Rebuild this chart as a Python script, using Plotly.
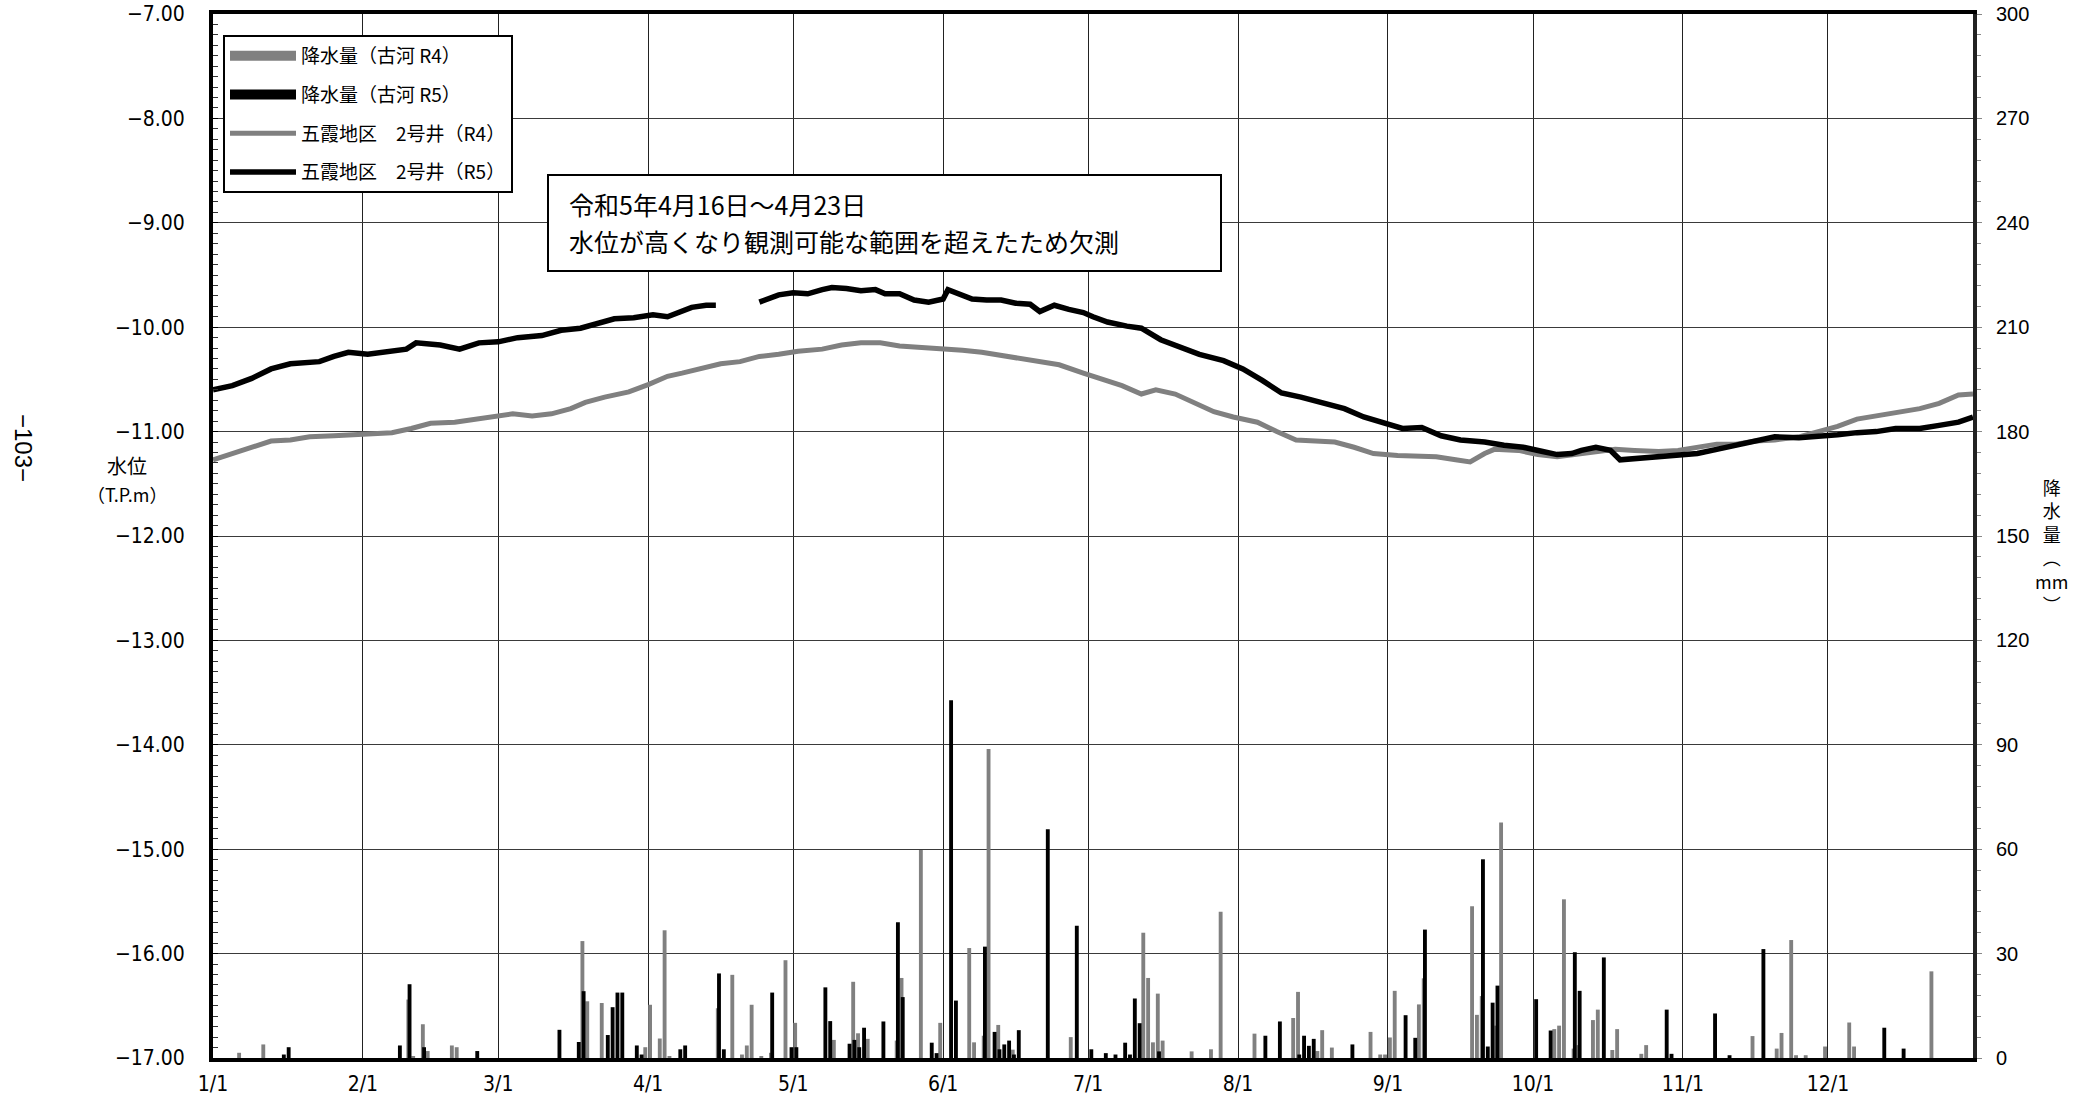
import pandas as pd
import plotly.graph_objects as go

# ---------------- data ----------------
month_ticks = ["1/1", "2/1", "3/1", "4/1", "5/1", "6/1", "7/1", "8/1", "9/1", "10/1", "11/1", "12/1"]

# groundwater level, Goka district well No.2, R5 (day-of-year, T.P.m); None = missing 4/16-4/23
r5_days = [0, 4, 8, 12, 16, 22, 25, 28, 32, 36, 40, 42, 47, 51, 55, 59, 63, 68, 72, 76, 80, 83, 87, 91, 94,
           97, 99, 102, 104, 108, 113, 115, 117, 120, 123, 126, 128, 131, 134, 137, 139, 142, 145, 148, 151,
           152, 155, 157, 160, 163, 166, 169, 171, 174, 177, 180, 182, 185, 189, 192, 196, 200, 204, 209,
           213, 217, 221, 225, 229, 234, 238, 242, 246, 250, 254, 258, 263, 267, 271, 275, 278, 281, 283,
           286, 289, 291, 294, 299, 303, 307, 311, 315, 319, 323, 328, 332, 336, 340, 344, 348, 353, 357,
           361, 364]
r5_level = [-10.60, -10.56, -10.49, -10.40, -10.35, -10.33, -10.28, -10.24, -10.26, -10.23, -10.21, -10.15,
            -10.17, -10.21, -10.15, -10.14, -10.10, -10.08, -10.03, -10.01, -9.96, -9.92, -9.91, -9.88,
            -9.90, -9.85, -9.81, -9.79, -9.79, None, -9.76, -9.73, -9.69, -9.67, -9.68, -9.64, -9.62,
            -9.63, -9.65, -9.64, -9.68, -9.68, -9.74, -9.76, -9.73, -9.64, -9.69, -9.73, -9.74, -9.74,
            -9.77, -9.78, -9.85, -9.79, -9.83, -9.86, -9.90, -9.95, -9.99, -10.01, -10.12, -10.19,
            -10.26, -10.32, -10.40, -10.51, -10.63, -10.67, -10.72, -10.78, -10.86, -10.92, -10.97,
            -10.96, -11.04, -11.08, -11.10, -11.13, -11.15, -11.19, -11.22, -11.21, -11.18, -11.15,
            -11.18, -11.27, -11.26, -11.24, -11.23, -11.21, -11.17, -11.13, -11.09, -11.05, -11.06,
            -11.05, -11.03, -11.01, -11.00, -10.97, -10.97, -10.94, -10.91, -10.86]

# groundwater level, R4
r4_days = [0, 4, 8, 12, 16, 20, 25, 29, 33, 37, 41, 45, 50, 54, 58, 62, 66, 70, 74, 77, 81, 86, 90, 94, 97,
           101, 105, 109, 113, 117, 121, 126, 130, 134, 138, 142, 146, 151, 155, 159, 163, 167, 171, 175,
           180, 184, 188, 192, 195, 199, 203, 207, 211, 216, 220, 224, 228, 232, 236, 240, 245, 249, 253,
           257, 260, 263, 265, 270, 274, 278, 282, 286, 290, 294, 299, 303, 307, 311, 315, 319, 323, 328,
           332, 336, 340, 344, 348, 353, 357, 361, 364]
r4_level = [-11.27, -11.21, -11.15, -11.09, -11.08, -11.05, -11.04, -11.03, -11.01, -11.01, -10.97, -10.92,
            -10.91, -10.88, -10.86, -10.83, -10.85, -10.83, -10.78, -10.72, -10.67, -10.62, -10.55,
            -10.47, -10.44, -10.40, -10.35, -10.33, -10.28, -10.26, -10.23, -10.21, -10.17, -10.15,
            -10.15, -10.18, -10.19, -10.21, -10.22, -10.24, -10.27, -10.29, -10.32, -10.36, -10.44,
            -10.50, -10.56, -10.64, -10.60, -10.64, -10.72, -10.81, -10.86, -10.91, -11.00, -11.08,
            -11.09, -11.10, -11.15, -11.21, -11.23, -11.23, -11.24, -11.27, -11.29, -11.21, -11.17,
            -11.18, -11.22, -11.24, -11.22, -11.19, -11.17, -11.18, -11.19, -11.18, -11.15, -11.12,
            -11.12, -11.09, -11.08, -11.05, -11.00, -10.95, -10.88, -10.85, -10.82, -10.78, -10.73,
            -10.65, -10.64]

# daily precipitation at Koga, R4 (grey) and R5 (black): day-of-year, mm
rain_r4_days = [5, 10, 40, 41, 43, 44, 49, 50, 76, 77, 80, 89, 90, 92, 93, 94, 104, 107, 109, 110, 111, 113,
                115, 118, 120, 128, 132, 133, 135, 141, 142, 146, 150, 156, 157, 159, 160, 162, 165, 177,
                192, 193, 194, 195, 196, 202, 206, 208, 215, 223, 224, 228, 229, 231, 239, 241, 242, 243,
                244, 249, 250, 260, 261, 262, 265, 266, 277, 278, 279, 281, 282, 285, 286, 289, 290, 295,
                296, 318, 323, 324, 326, 327, 329, 333, 338, 339, 355]
rain_r4_mm = [1.5, 3.9, 16.8, 0.5, 9.7, 2.0, 3.6, 3.1, 33.6, 16.3, 15.8, 3.1, 15.3, 5.6, 36.7, 0.5, 14.3,
              23.9, 1.0, 3.6, 15.3, 0.5, 1.5, 28.1, 10.1, 5.2, 21.9, 7.1, 5.5, 5.0, 23.0, 59.8, 10.1, 31.6,
              4.5, 6.4, 88.8, 9.5, 2.4, 6.0, 36.0, 23.0, 4.5, 18.5, 5.0, 1.9, 2.5, 42.0, 7.0, 11.5, 19.0,
              2.0, 8.0, 3.0, 7.5, 1.0, 1.0, 5.9, 19.3, 15.4, 22.9, 43.6, 12.4, 17.8, 9.3, 67.7, 8.3, 9.3,
              45.6, 2.7, 3.7, 10.9, 13.9, 2.3, 8.3, 1.2, 3.7, 6.3, 2.7, 7.2, 33.9, 0.8, 0.8, 3.3, 10.2,
              3.3, 24.9]
rain_r5_days = [14, 15, 38, 40, 43, 54, 71, 75, 76, 81, 82, 83, 84, 87, 88, 96, 97, 104, 105, 115, 119, 120,
                126, 127, 131, 132, 133, 134, 138, 141, 142, 148, 149, 152, 153, 159, 161, 162, 163, 164,
                165, 166, 172, 178, 181, 184, 186, 188, 189, 190, 191, 195, 217, 220, 224, 225, 226, 227,
                235, 246, 248, 250, 262, 263, 264, 265, 273, 276, 281, 282, 287, 300, 301, 310, 313, 320,
                345, 349]
rain_r5_mm = [1.0, 3.1, 3.6, 21.2, 3.1, 2.0, 8.1, 4.6, 19.2, 6.6, 14.6, 18.8, 18.8, 3.6, 1.0, 2.5, 3.6,
              24.3, 2.5, 18.8, 3.1, 3.1, 20.3, 10.6, 4.1, 5.2, 3.1, 8.7, 10.5, 39.0, 17.5, 4.4, 1.4, 102.8,
              16.5, 32.0, 7.5, 2.5, 3.9, 5.0, 1.0, 8.0, 65.7, 38.0, 2.5, 1.4, 1.0, 4.4, 1.0, 17.1, 10.0,
              1.9, 6.4, 10.5, 1.0, 6.4, 3.5, 5.5, 3.9, 12.3, 5.8, 36.9, 57.1, 3.3, 15.9, 20.8, 16.9, 7.9,
              30.4, 19.3, 28.9, 13.9, 1.2, 12.8, 0.8, 31.3, 8.7, 2.7]

names = ["降水量（古河 R4）", "降水量（古河 R5）", "五霞地区　2号井（R4）", "五霞地区　2号井（R5）"]
note_lines = ["令和5年4月16日～4月23日", "水位が高くなり観測可能な範囲を超えたため欠測"]

# ---------------- helpers ----------------
BASE = pd.Timestamp("2023-01-01")
DAY_MS = 86400000


def to_dates(days):
    return [BASE + pd.Timedelta(days=d) for d in days]


GREY = "#808080"
BLACK = "#000000"
CJK = "Noto Sans CJK JP, sans-serif"
NARROW = "Liberation Sans Narrow, DejaVu Sans Condensed, sans-serif"

W, H = 2092, 1100
L, R, T, B = 213, 1973, 14, 1058


def px(x):
    return (x - L) / (R - L)


def py(y):
    return 1 - (y - T) / (B - T)


fig = go.Figure()

# legend-only entries for the bar series (wide swatches like the reference)
fig.add_trace(go.Scatter(x=[None], y=[None], mode="lines", name=names[0], legendgroup="g1",
                         line=dict(color=GREY, width=10)))
fig.add_trace(go.Scatter(x=[None], y=[None], mode="lines", name=names[1], legendgroup="g2",
                         line=dict(color=BLACK, width=10)))

# water level lines
fig.add_trace(go.Scatter(x=to_dates(r4_days), y=r4_level, mode="lines", name=names[2], legendgroup="g3",
                         line=dict(color=GREY, width=5)))
fig.add_trace(go.Scatter(x=to_dates(r5_days), y=r5_level, mode="lines", name=names[3], legendgroup="g4",
                         connectgaps=False, line=dict(color=BLACK, width=5.5)))

# precipitation bars (right axis)
fig.add_trace(go.Bar(x=to_dates(rain_r4_days), y=rain_r4_mm, yaxis="y2", showlegend=False,
                     marker=dict(color=GREY, line=dict(width=0)),
                     width=0.8 * DAY_MS, offset=0.0 * DAY_MS))
fig.add_trace(go.Bar(x=to_dates(rain_r5_days), y=rain_r5_mm, yaxis="y2", showlegend=False,
                     marker=dict(color=BLACK, line=dict(width=0)),
                     width=0.8 * DAY_MS, offset=0.25 * DAY_MS))

fig.update_layout(
    width=W, height=H,
    margin=dict(l=L, r=W - R, t=T, b=H - B, pad=0, autoexpand=False),
    paper_bgcolor="white", plot_bgcolor="white",
    barmode="overlay",
    showlegend=True,
    legend=dict(x=px(223), y=py(35), xanchor="left", yanchor="top",
                bgcolor="white", bordercolor="black", borderwidth=2,
                font=dict(family=CJK, size=19, color="black"),
                tracegroupgap=11, itemwidth=66, traceorder="grouped"),
    xaxis=dict(type="date", range=["2023-01-01", "2023-12-31"], automargin=False,
               tickvals=[BASE + pd.DateOffset(months=i) for i in range(12)],
               ticktext=month_ticks,
               showgrid=True, gridcolor="#222222", gridwidth=1,
               showline=True, linecolor="black", linewidth=4, mirror=True,
               ticks="", ticklabelstandoff=4,
               tickfont=dict(family=NARROW, size=21, color="black"),
               zeroline=False),
    yaxis=dict(range=[-17, -7], dtick=1, tick0=-17, tickformat=".2f", automargin=False,
               showgrid=True, gridcolor="#3a3a3a", gridwidth=1.3,
               showline=True, linecolor="black", linewidth=4, mirror=True,
               ticks="inside", ticklen=5, tickcolor="black",
               minor=dict(dtick=0.1, ticks="inside", ticklen=5, tickcolor="#333333", showgrid=False),
               ticklabelstandoff=20,
               tickfont=dict(family=NARROW, size=21, color="black"),
               zeroline=False),
    yaxis2=dict(range=[0, 300], dtick=30, tick0=0, overlaying="y", side="right", automargin=False,
                showgrid=False, zeroline=False,
                showline=True, linecolor="#222222", linewidth=4,
                ticks="outside", ticklen=5, tickcolor="#888888",
                minor=dict(dtick=6, ticks="outside", ticklen=4, tickcolor="#888888"),
                ticklabelstandoff=10,
                tickfont=dict(family="Liberation Sans, Arial, sans-serif", size=20, color="black")),
)

# note box about the missing period
fig.add_shape(type="rect", xref="paper", yref="paper",
              x0=px(548), x1=px(1221), y0=py(271), y1=py(175),
              line=dict(color="black", width=2), fillcolor="white", layer="above")
fig.add_annotation(xref="paper", yref="paper", x=px(567), y=py(204), xanchor="left", yanchor="middle",
                   text=note_lines[0], showarrow=False, font=dict(family=CJK, size=25, color="black"))
fig.add_annotation(xref="paper", yref="paper", x=px(567), y=py(241), xanchor="left", yanchor="middle",
                   text=note_lines[1], showarrow=False, font=dict(family=CJK, size=25, color="black"))

# left axis title
fig.add_annotation(xref="paper", yref="paper", x=px(127), y=py(465), xanchor="center", yanchor="middle",
                   text="水位", showarrow=False, font=dict(family=CJK, size=20, color="black"))
fig.add_annotation(xref="paper", yref="paper", x=px(127), y=py(494), xanchor="center", yanchor="middle",
                   text="（T.P.m）", showarrow=False, font=dict(family=CJK, size=18, color="black"))

# right axis title (vertical, one character per line)
fig.add_annotation(xref="paper", yref="paper", x=px(2051), y=py(545), xanchor="center", yanchor="middle",
                   text="降<br>水<br>量<br>︵<br>mm<br>︶", showarrow=False,
                   font=dict(family=CJK, size=18, color="black"))

# page number
fig.add_annotation(xref="paper", yref="paper", x=px(23), y=py(448), xanchor="center", yanchor="middle",
                   text="−103−", textangle=90, showarrow=False,
                   font=dict(family="Liberation Sans, sans-serif", size=24, color="black"))

# remove the browser's default 8px page margin so the figure sits at the window origin
fig.write_html("out.html",
               config={"displayModeBar": False},
               post_script="document.body.style.margin='0';document.body.style.overflow='hidden';")
